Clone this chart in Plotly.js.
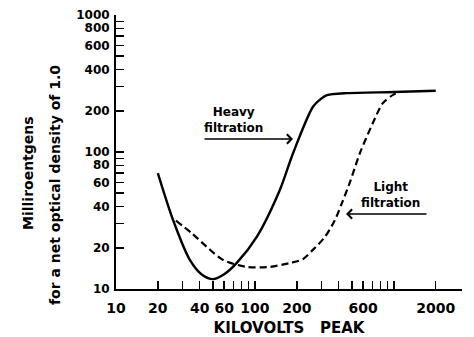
<!DOCTYPE html>
<html>
<head>
<meta charset="utf-8">
<script src="https://cdn.plot.ly/plotly-3.0.1.min.js"></script>
<style>html,body{margin:0;padding:0;background:#fff;}#chart{width:474px;height:337px;}</style>
</head>
<body>
<div id="chart"></div>
<script>
// Heavy filtration (solid)
const heavyKv = [20, 25.7, 34, 41.6, 50, 60, 74, 103, 151, 188, 261, 300, 330, 459, 1000, 2000];
const heavyMr = [70, 32, 16.3, 12.7, 11.8, 12.8, 15.5, 24, 52.8, 98, 213, 245, 260, 269, 274, 280];
// Light filtration (dashed)
const lightKv = [27, 35, 45, 59, 87.5, 128, 179, 221, 261, 319, 377, 423, 482, 569, 706, 834, 985, 1080];
const lightMr = [31.5, 25.6, 20.3, 16.3, 14.5, 14.5, 15.5, 16.5, 19.3, 24, 32, 42.5, 60, 98, 163, 228, 261, 272];
// Ticks
const xTickVals = [20, 30, 40, 50, 60, 70, 80, 90, 100, 200, 300, 400, 500, 600, 700, 800, 900, 1000, 2000];
const xLabeled = [10, 20, 40, 60, 100, 200, 600, 2000];
const yTickVals = [20, 30, 40, 50, 60, 70, 80, 90, 100, 200, 300, 400, 500, 600, 700, 800, 900, 1000];
const yLabeled = [10, 20, 40, 60, 80, 100, 200, 400, 600, 800, 1000];

const FONT = 'DejaVu Sans';
const W = 474, H = 337, L = 116, R = 12, T = 15, B = 48;
const px = x => (x - L) / (W - L - R);
const py = y => (H - B - y) / (H - T - B);

function allTicks(minor, labeled) {
  const vals = Array.from(new Set(minor.concat(labeled))).sort((a, b) => a - b);
  return { vals, text: vals.map(v => labeled.includes(v) ? String(v) : '') };
}
const xt = allTicks(xTickVals, xLabeled);
const yt = allTicks(yTickVals, yLabeled);

const traces = [
  { x: heavyKv, y: heavyMr, mode: 'lines', name: 'Heavy filtration',
    line: { color: '#000', width: 2.4, shape: 'spline', smoothing: 0.8 } },
  { x: lightKv, y: lightMr, mode: 'lines', name: 'Light filtration',
    line: { color: '#000', width: 2.2, dash: '7px,4px', shape: 'spline', smoothing: 0.8 } }
];

const annFont = { family: FONT, size: 12, color: '#000', weight: 'bold' };
const titleFont = { family: FONT, size: 14, color: '#000', weight: 'bold' };

const layout = {
  width: W, height: H,
  margin: { l: L, r: R, t: T, b: B, pad: 0 },
  paper_bgcolor: '#fff', plot_bgcolor: '#fff',
  showlegend: false,
  xaxis: {
    type: 'log', range: [1, 3.49],
    showline: true, linecolor: '#000', linewidth: 2,
    showgrid: false, zeroline: false,
    ticks: 'inside', ticklen: 8, tickwidth: 1.5, tickcolor: '#000',
    tickmode: 'array', tickvals: xt.vals, ticktext: xt.text,
    ticklabelstandoff: 5,
    tickfont: { family: FONT, size: 14, color: '#000', weight: 'bold' },
    title: { text: 'KILOVOLTS\u00a0\u00a0\u00a0PEAK', font: { family: FONT, size: 15, color: '#000', weight: 'bold' }, standoff: 12 }
  },
  yaxis: {
    type: 'log', range: [1, 3],
    showline: true, linecolor: '#000', linewidth: 2,
    showgrid: false, zeroline: false,
    ticks: 'inside', ticklen: 8, tickwidth: 1.5, tickcolor: '#000',
    tickmode: 'array', tickvals: yt.vals, ticktext: yt.text,
    ticklabelstandoff: 2,
    tickfont: { family: FONT, size: 12, color: '#000', weight: 'bold' }
  },
  annotations: [
    { xref: 'paper', yref: 'paper', x: px(28), y: py(173), xanchor: 'center', yanchor: 'middle',
      text: 'Milliroentgens', showarrow: false, textangle: -90, font: titleFont },
    { xref: 'paper', yref: 'paper', x: px(55), y: py(185), xanchor: 'center', yanchor: 'middle',
      text: 'for a net optical density of 1.0', showarrow: false, textangle: -90, font: titleFont },
    { xref: 'paper', yref: 'paper', x: px(233), y: py(120), xanchor: 'center', yanchor: 'middle',
      text: 'Heavy<br>filtration', showarrow: false, align: 'center', font: annFont },
    { xref: 'paper', yref: 'paper', x: px(293), y: py(139), ax: px(203), ay: py(139), axref: 'paper', ayref: 'paper',
      text: '', showarrow: true, arrowhead: 4, arrowsize: 1.2, arrowwidth: 1.5, arrowcolor: '#000' },
    { xref: 'paper', yref: 'paper', x: px(390), y: py(195), xanchor: 'center', yanchor: 'middle',
      text: 'Light<br>filtration', showarrow: false, align: 'center', font: annFont },
    { xref: 'paper', yref: 'paper', x: px(346), y: py(214), ax: px(428), ay: py(214), axref: 'paper', ayref: 'paper',
      text: '', showarrow: true, arrowhead: 4, arrowsize: 1.2, arrowwidth: 1.5, arrowcolor: '#000' }
  ]
};

Plotly.newPlot('chart', traces, layout, { staticPlot: true, displayModeBar: false });
</script>
</body>
</html>
